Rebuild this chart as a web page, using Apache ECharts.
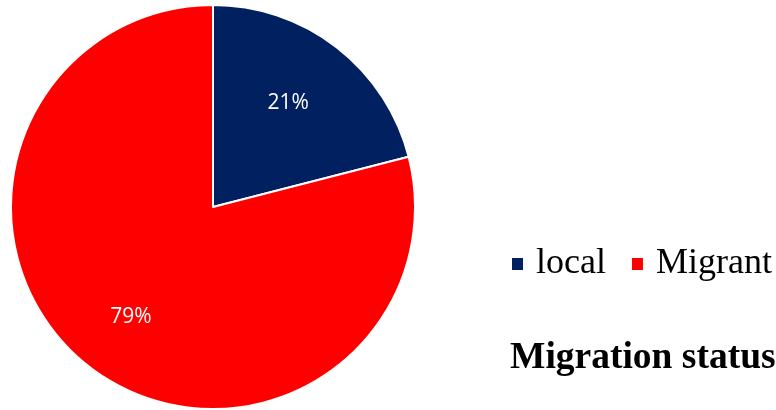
<!DOCTYPE html>
<html>
<head>
<meta charset="utf-8">
<script src="https://cdn.jsdelivr.net/npm/echarts@6/dist/echarts.min.js"></script>
<style>
  html, body { margin: 0; padding: 0; background: #fff; }
  #chart { width: 776px; height: 410px; }
</style>
</head>
<body>
<div id="chart"></div>
<script>
// Share of respondents by migration status
const categories = ['local', 'Migrant'];
const shares = [21, 79];
const colors = ['#002060', '#FF0000'];
const chartTitle = 'Migration status';

const pieData = categories.map((name, i) => ({
  name: name,
  value: shares[i],
  itemStyle: { color: colors[i] }
}));

const chart = echarts.init(document.getElementById('chart'), null, { renderer: 'canvas' });

chart.setOption({
  animation: false,
  backgroundColor: '#ffffff',
  title: {
    text: chartTitle,
    left: 510,
    top: 339,
    padding: 0,
    textStyle: {
      fontFamily: '"Liberation Serif", "Times New Roman", serif',
      fontWeight: 'bold',
      fontSize: 37.5,
      color: '#000000'
    }
  },
  legend: {
    data: categories,
    left: 510,
    top: 246,
    padding: 0,
    icon: 'rect',
    itemWidth: 13,
    itemHeight: 14,
    itemGap: 24,
    textStyle: {
      fontFamily: '"Liberation Serif", "Times New Roman", serif',
      fontSize: 36,
      color: '#000000',
      padding: [0, 0, 0, 7]
    }
  },
  series: [
    {
      // visible slices
      type: 'pie',
      center: [213, 207],
      radius: [0, 202],
      startAngle: 90,
      clockwise: true,
      silent: true,
      label: { show: false },
      labelLine: { show: false },
      itemStyle: { borderColor: '#ffffff', borderWidth: 2 },
      data: pieData
    },
    {
      // transparent ring that carries the percentage labels further out
      type: 'pie',
      center: [213, 207],
      radius: [0, 262],
      startAngle: 90,
      clockwise: true,
      silent: true,
      z: 3,
      itemStyle: { color: 'rgba(0,0,0,0)' },
      label: {
        show: true,
        position: 'inside',
        formatter: p => p.value + '%',
        color: '#ffffff',
        fontFamily: '"Open Sans", "Noto Sans", sans-serif',
        fontSize: 21
      },
      labelLine: { show: false },
      data: [
        { name: categories[0], value: shares[0], label: { offset: [-7, 2] } },
        { name: categories[1], value: shares[1], label: { offset: [0, 4] } }
      ]
    }
  ]
});
</script>
</body>
</html>
